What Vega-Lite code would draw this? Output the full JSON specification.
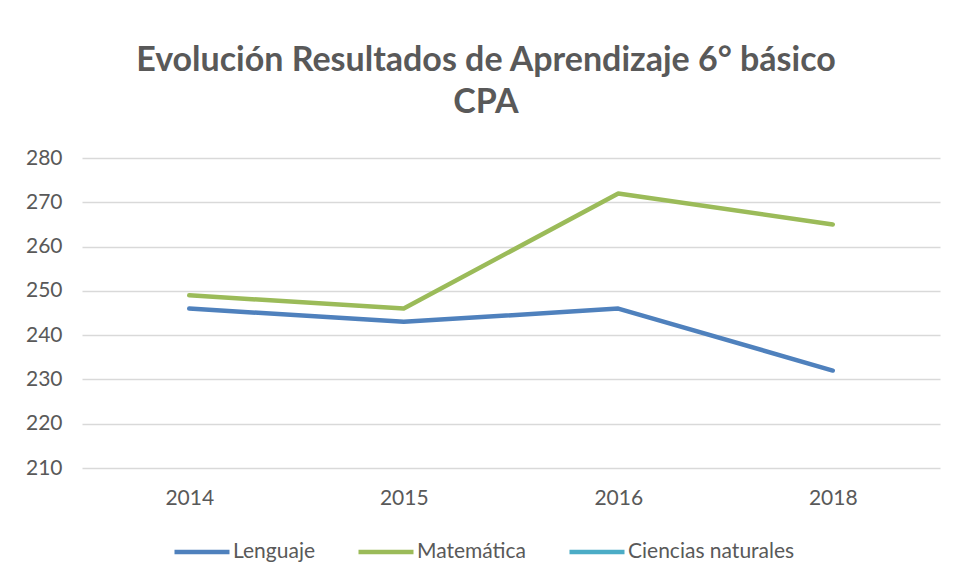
{
  "$schema": "https://vega.github.io/schema/vega-lite/v6.json",
  "autosize": {"type": "none"},
  "width": 858,
  "height": 310,
  "padding": {"left": 82, "top": 158, "right": 15, "bottom": 115},
  "background": "white",
  "title": {
    "text": ["Evolución Resultados de Aprendizaje 6° básico", "CPA"],
    "font": "Lato",
    "fontSize": 34,
    "fontWeight": "bold",
    "color": "#595959",
    "anchor": "middle",
    "lineHeight": 42,
    "offset": 27,
    "dx": -25
  },
  "data": {
    "values": [
      {"year": "2014", "serie": "Lenguaje", "valor": 246},
      {"year": "2015", "serie": "Lenguaje", "valor": 243},
      {"year": "2016", "serie": "Lenguaje", "valor": 246},
      {"year": "2018", "serie": "Lenguaje", "valor": 232},
      {"year": "2014", "serie": "Matemática", "valor": 249},
      {"year": "2015", "serie": "Matemática", "valor": 246},
      {"year": "2016", "serie": "Matemática", "valor": 272},
      {"year": "2018", "serie": "Matemática", "valor": 265},
      {"year": "2014", "serie": "Ciencias naturales", "valor": null},
      {"year": "2015", "serie": "Ciencias naturales", "valor": null},
      {"year": "2016", "serie": "Ciencias naturales", "valor": null},
      {"year": "2018", "serie": "Ciencias naturales", "valor": null}
    ]
  },
  "mark": {"type": "line", "strokeWidth": 4.5, "strokeCap": "round", "strokeJoin": "round"},
  "encoding": {
    "x": {
      "field": "year",
      "type": "ordinal",
      "scale": {"type": "point", "padding": 0.5},
      "axis": {
        "title": null,
        "labelAngle": 0,
        "domain": false,
        "ticks": false,
        "grid": false,
        "labelFont": "Lato",
        "labelFontSize": 21,
        "labelColor": "#595959",
        "labelPadding": 19
      }
    },
    "y": {
      "field": "valor",
      "type": "quantitative",
      "scale": {"domain": [210, 280], "nice": false, "zero": false},
      "axis": {
        "title": null,
        "values": [210, 220, 230, 240, 250, 260, 270, 280],
        "domain": false,
        "ticks": false,
        "grid": true,
        "gridColor": "#d9d9d9",
        "gridWidth": 1.3,
        "labelFont": "Lato",
        "labelFontSize": 21,
        "labelColor": "#595959",
        "labelPadding": 20
      }
    },
    "color": {
      "field": "serie",
      "type": "nominal",
      "scale": {
        "domain": ["Lenguaje", "Matemática", "Ciencias naturales"],
        "range": ["#4f81bd", "#9bbb59", "#4bacc6"]
      },
      "legend": {
        "title": null,
        "orient": "none",
        "direction": "horizontal",
        "legendX": 90,
        "legendY": 364,
        "symbolType": "stroke",
        "symbolSize": 3025,
        "symbolStrokeWidth": 4.5,
        "labelFont": "Lato",
        "labelFontSize": 21,
        "labelColor": "#595959",
        "labelOffset": 1,
        "labelLimit": 400,
        "columnPadding": 33
      }
    }
  },
  "config": {"view": {"stroke": null}}
}
